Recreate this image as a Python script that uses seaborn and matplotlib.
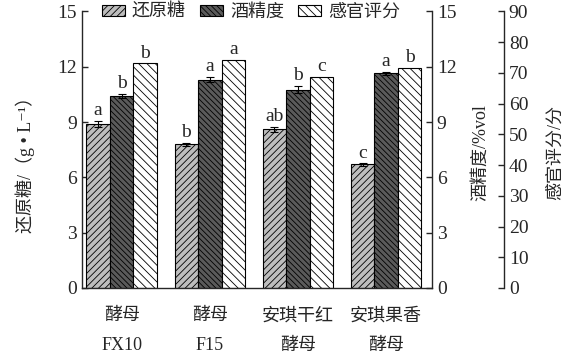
import pandas as pd
import seaborn as sns
import matplotlib
matplotlib.use("Agg")
import matplotlib.pyplot as plt

# data
YEASTS = ["酵母\nFX10", "酵母\nF15", "安琪干红\n酵母", "安琪果香\n酵母"]
SERIES = ["还原糖", "酒精度", "感官评分"]
sugar = [8.9, 7.8, 8.6, 6.7]
sugar_err = [0.15, 0.08, 0.12, 0.06]
alcohol = [10.4, 11.3, 10.75, 11.65]
alcohol_err = [0.12, 0.15, 0.2, 0.08]
score = [73.1, 74.2, 68.8, 71.5]
score_err = [0.0, 0.0, 0.0, 0.0]
letters_sugar = ["a", "b", "ab", "c"]
letters_alcohol = ["b", "a", "b", "a"]
letters_score = ["b", "a", "c", "b"]

FILLS = {"还原糖": "#bdbdbd", "酒精度": "#5a5a5a", "感官评分": "white"}
HATCHES = {"还原糖": "/////", "酒精度": "\\\\\\\\\\\\", "感官评分": "\\\\\\\\"}
FONT = ["Liberation Serif", "Noto Sans CJK SC", "DejaVu Serif"]

sns.set_style("ticks")
plt.rcParams.update({
    "font.family": FONT,
    "font.size": 13,
    "hatch.linewidth": 0.6,
    "axes.linewidth": 1.0,
})

# 感官评分 lives on a 0-90 axis that shares height with the 0-15 axes
SCORE_SCALE = 15 / 90
df = pd.DataFrame({
    "yeast": YEASTS * 3,
    "series": [s for s in SERIES for _ in YEASTS],
    "value": sugar + alcohol + [v * SCORE_SCALE for v in score],
})
errs = [sugar_err, alcohol_err, [e * SCORE_SCALE for e in score_err]]
letters = [letters_sugar, letters_alcohol, letters_score]

fig = plt.figure(figsize=(5.72, 3.57), dpi=100)
ax = fig.add_axes([0.1434, 0.1933, 0.6118, 0.7747])

sns.barplot(
    data=df, x="yeast", y="value", hue="series", hue_order=SERIES,
    palette=FILLS, order=YEASTS, width=0.8, gap=0, ax=ax,
    edgecolor="black", linewidth=0.8, legend=False, errorbar=None
)

for name, cont, err, lab in zip(SERIES, ax.containers, errs, letters):
    for bar, e, t in zip(cont, err, lab):
        bar.set_hatch(HATCHES[name])
        xc = bar.get_x() + bar.get_width() / 2
        h = bar.get_height()
        if e > 0:
            ax.errorbar(xc, h, yerr=e, fmt="none", ecolor="black",
                        elinewidth=0.8, capsize=3, capthick=0.8)
        ax.text(xc, h + e + 0.1, t, ha="center", va="bottom", fontsize=14)

ax.set_xlim(-0.45, 3.52)
ax.set_ylim(0, 15)
ax.set_yticks(range(0, 16, 3))
ax.set_xlabel("")
ax.set_ylabel("还原糖/（g • L⁻¹）", fontsize=13)
ax.yaxis.set_label_coords(-0.135, 0.46)
ax.tick_params(direction="in", length=4, width=1, labelsize=14)
ax.tick_params(axis="x", pad=14, labelsize=13)
for lbl in ax.get_xticklabels():
    lbl.set_linespacing(1.95)
ax.spines["top"].set_visible(False)
ax.spines["right"].set_visible(False)

ax2 = ax.twinx()
ax2.set_ylim(0, 15)
ax2.set_yticks(range(0, 16, 3))
ax2.set_ylabel("酒精度/%vol", fontsize=13)
ax2.yaxis.set_label_coords(1.114, 0.49)
ax2.tick_params(direction="in", length=4, width=1, labelsize=14)
for s in ["top", "left", "bottom"]:
    ax2.spines[s].set_visible(False)

ax3 = ax.twinx()
ax3.set_ylim(0, 90)
ax3.set_yticks(range(0, 91, 10))
ax3.spines["right"].set_position(("axes", 1.2057))
ax3.set_ylabel("感官评分/分", fontsize=13)
ax3.yaxis.set_label_coords(1.329, 0.49)
ax3.tick_params(direction="in", length=4, width=1, labelsize=14)
for s in ["top", "left", "bottom"]:
    ax3.spines[s].set_visible(False)

handles = [cont[0] for cont in ax.containers]
fig.legend(
    handles, SERIES, loc="center", bbox_to_anchor=(0.439, 0.966), ncol=3,
    frameon=False, handlelength=1.25, handleheight=0.55, handletextpad=0.4,
    columnspacing=0.8, fontsize=13, borderaxespad=0, borderpad=0
)

fig.savefig("out.png", dpi=100)
